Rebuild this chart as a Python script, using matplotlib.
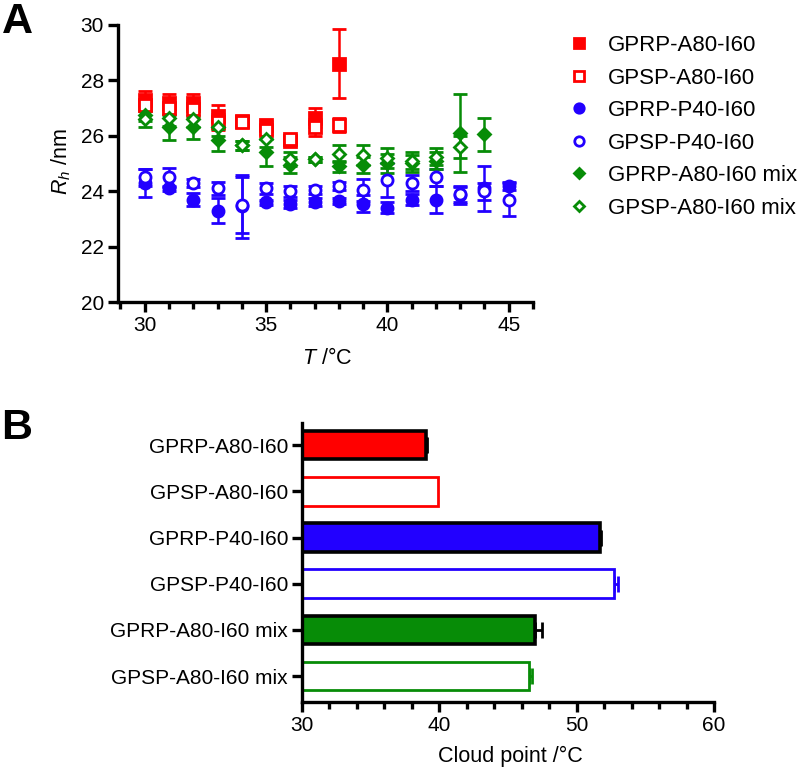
import matplotlib
matplotlib.use("Agg")
import matplotlib.pyplot as plt
import numpy as np
from matplotlib.ticker import MultipleLocator

plt.rcParams['font.family'] = ['Liberation Sans', 'DejaVu Sans']
plt.rcParams['mathtext.fontset'] = 'custom'
plt.rcParams['mathtext.rm'] = 'Liberation Sans'
plt.rcParams['mathtext.it'] = 'Liberation Sans:italic'

# ---------------- Panel A data ----------------
T_a80 = [30, 31, 32, 33, 34, 35, 36, 37, 38]
gprp_a80 = [27.3, 27.2, 27.2, 26.7, 26.55, 26.4, 25.8, 26.65, 28.6]
gprp_a80_err = [0.3, 0.3, 0.3, 0.4, 0.15, 0.15, 0.15, 0.35, 1.25]
gpsp_a80 = [27.1, 27.0, 26.95, 26.5, 26.5, 26.2, 25.9, 26.3, 26.4]
gpsp_a80_err = [0.2, 0.2, 0.3, 0.3, 0.1, 0.15, 0.1, 0.3, 0.25]

T_p40 = [30, 31, 32, 33, 34, 35, 36, 37, 38, 39, 40, 41, 42, 43, 44, 45]
gprp_p40 = [24.3, 24.1, 23.7, 23.3, 23.45, 23.6, 23.55, 23.6, 23.65, 23.55, 23.4, 23.7, 23.7, 23.85, 24.1, 24.2]
gprp_p40_err = [0.5, 0.1, 0.25, 0.45, 1.15, 0.1, 0.15, 0.15, 0.1, 0.3, 0.2, 0.2, 0.5, 0.3, 0.8, 0.15]
gpsp_p40 = [24.5, 24.5, 24.3, 24.1, 23.5, 24.1, 24.0, 24.05, 24.2, 24.05, 24.4, 24.3, 24.5, 23.9, 24.0, 23.7]
gpsp_p40_err = [0.3, 0.35, 0.15, 0.25, 1.0, 0.2, 0.2, 0.15, 0.15, 0.4, 0.6, 0.3, 0.3, 0.3, 0.3, 0.6]

T_mix_r = [30, 31, 32, 33, 34, 35, 36, 37, 38, 39, 40, 41, 42, 43, 44]
gprp_mix = [26.75, 26.3, 26.3, 25.85, 25.65, 25.4, 24.95, 25.15, 24.9, 24.95, 25.0, 25.0, 25.1, 26.1, 26.05]
gprp_mix_err = [0.2, 0.45, 0.4, 0.4, 0.15, 0.5, 0.3, 0.1, 0.2, 0.3, 0.35, 0.3, 0.3, 1.4, 0.6]
T_mix_s = [30, 31, 32, 33, 34, 35, 36, 37, 38, 39, 40, 41, 42, 43]
gpsp_mix = [26.6, 26.65, 26.6, 26.3, 25.65, 25.9, 25.15, 25.15, 25.35, 25.3, 25.2, 25.1, 25.25, 25.6]
gpsp_mix_err = [0.3, 0.3, 0.3, 0.3, 0.15, 0.3, 0.25, 0.1, 0.3, 0.35, 0.35, 0.3, 0.3, 0.4]

# ---------------- Panel B data ----------------
samples = ['GPRP-A80-I60', 'GPSP-A80-I60', 'GPRP-P40-I60', 'GPSP-P40-I60',
           'GPRP-A80-I60 mix', 'GPSP-A80-I60 mix']
cloud_point = [39.0, 39.9, 51.7, 52.7, 47.0, 46.5]
cloud_err = [0.1, 0.0, 0.1, 0.3, 0.5, 0.25]

RED = '#ff0000'
BLUE = '#2200ff'
GREEN = '#078c07'

fig = plt.figure(figsize=(8.0, 7.69), dpi=100)

# ---------------- Panel A ----------------
axA = fig.add_axes([118/800, 1-302/769, (533-118)/800, (302-25)/769])
ms = 8
eb = dict(capsize=5, elinewidth=1.8, capthick=1.8, linestyle='none')
series = [
    (T_a80, gprp_a80, gprp_a80_err, 's', RED, True, 'GPRP-A80-I60'),
    (T_a80, gpsp_a80, gpsp_a80_err, 's', RED, False, 'GPSP-A80-I60'),
    (T_p40, gprp_p40, gprp_p40_err, 'o', BLUE, True, 'GPRP-P40-I60'),
    (T_p40, gpsp_p40, gpsp_p40_err, 'o', BLUE, False, 'GPSP-P40-I60'),
    (T_mix_r, gprp_mix, gprp_mix_err, 'D', GREEN, True, 'GPRP-A80-I60 mix'),
    (T_mix_s, gpsp_mix, gpsp_mix_err, 'D', GREEN, False, 'GPSP-A80-I60 mix'),
]
handles = []
for x, y, e, m, c, filled, lab in series:
    msz = ms if m != 'D' else ms * 0.8
    axA.errorbar(x, y, yerr=e, fmt=m, color=c, ecolor=c, ms=msz,
                 mfc=c if filled else 'white', mec=c, mew=2.0, **eb)
    h, = axA.plot([], [], m, color=c, ms=msz*0.85, mfc=c if filled else 'white',
                  mec=c, mew=2.0, linestyle='none', label=lab)
    handles.append(h)

axA.set_xlim(28.9, 46.0)
axA.set_ylim(20, 30)
axA.xaxis.set_major_locator(MultipleLocator(5))
axA.xaxis.set_minor_locator(MultipleLocator(1))
axA.yaxis.set_major_locator(MultipleLocator(2))
for s in ['top', 'right']:
    axA.spines[s].set_visible(False)
for s in ['left', 'bottom']:
    axA.spines[s].set_linewidth(2.4)
axA.tick_params(axis='both', which='major', length=7, width=2.4, labelsize=15, pad=3)
axA.tick_params(axis='x', which='minor', length=5, width=2.4)
axA.set_xlabel(r'$T$ /°C', fontsize=15.5)
axA.set_ylabel(r'$R_h$ /nm', fontsize=15.5)
axA.xaxis.set_label_coords((327-118)/415, (302-348)/277)
axA.yaxis.set_label_coords((73-118)/415, (302-162)/277)

fig.legend(handles=handles, loc='upper left', bbox_to_anchor=(566/800, 1-35/769),
           frameon=False, fontsize=16, handletextpad=0.7, labelspacing=0.52,
           handlelength=1.2, borderaxespad=0, borderpad=0)

# ---------------- Panel B ----------------
axB = fig.add_axes([302/800, 1-702/769, (714-302)/800, (702-423)/769])
colors = [RED, RED, BLUE, BLUE, GREEN, GREEN]
filled = [True, False, True, False, True, False]
pos = np.arange(len(samples))
for i in range(len(samples)):
    if filled[i]:
        axB.barh(pos[i], cloud_point[i] - 30, left=30, height=0.62, color=colors[i],
                 edgecolor='black', linewidth=2.6, zorder=2)
        ecol = 'black'
    else:
        axB.barh(pos[i], cloud_point[i] - 30, left=30, height=0.62, color='white',
                 edgecolor=colors[i], linewidth=2.0, zorder=2)
        ecol = colors[i]
    if cloud_err[i] > 0:
        axB.errorbar(cloud_point[i], pos[i], xerr=[[0], [cloud_err[i]]], fmt='none',
                     ecolor=ecol, elinewidth=2.0, capsize=6, capthick=2.0, zorder=1)

axB.set_xlim(30, 60)
axB.set_ylim(5.56, -0.48)
axB.set_yticks(pos)
axB.set_yticklabels(samples)
axB.xaxis.set_major_locator(MultipleLocator(10))
axB.xaxis.set_minor_locator(MultipleLocator(2))
for s in ['top', 'right']:
    axB.spines[s].set_visible(False)
for s in ['left', 'bottom']:
    axB.spines[s].set_linewidth(2.4)
axB.tick_params(axis='both', which='major', length=7, width=2.4, labelsize=15, pad=3)
axB.tick_params(axis='x', which='minor', length=5, width=2.4)
axB.set_xlabel('Cloud point /°C', fontsize=15.5)
axB.xaxis.set_label_coords((510-302)/412, (702-746)/279)

fig.text(0.002, 0.997, 'A', fontsize=31, fontweight='bold', va='top', ha='left')
fig.text(0.002, 1-408/769, 'B', fontsize=31, fontweight='bold', va='top', ha='left')

fig.savefig('out.png', dpi=100)
